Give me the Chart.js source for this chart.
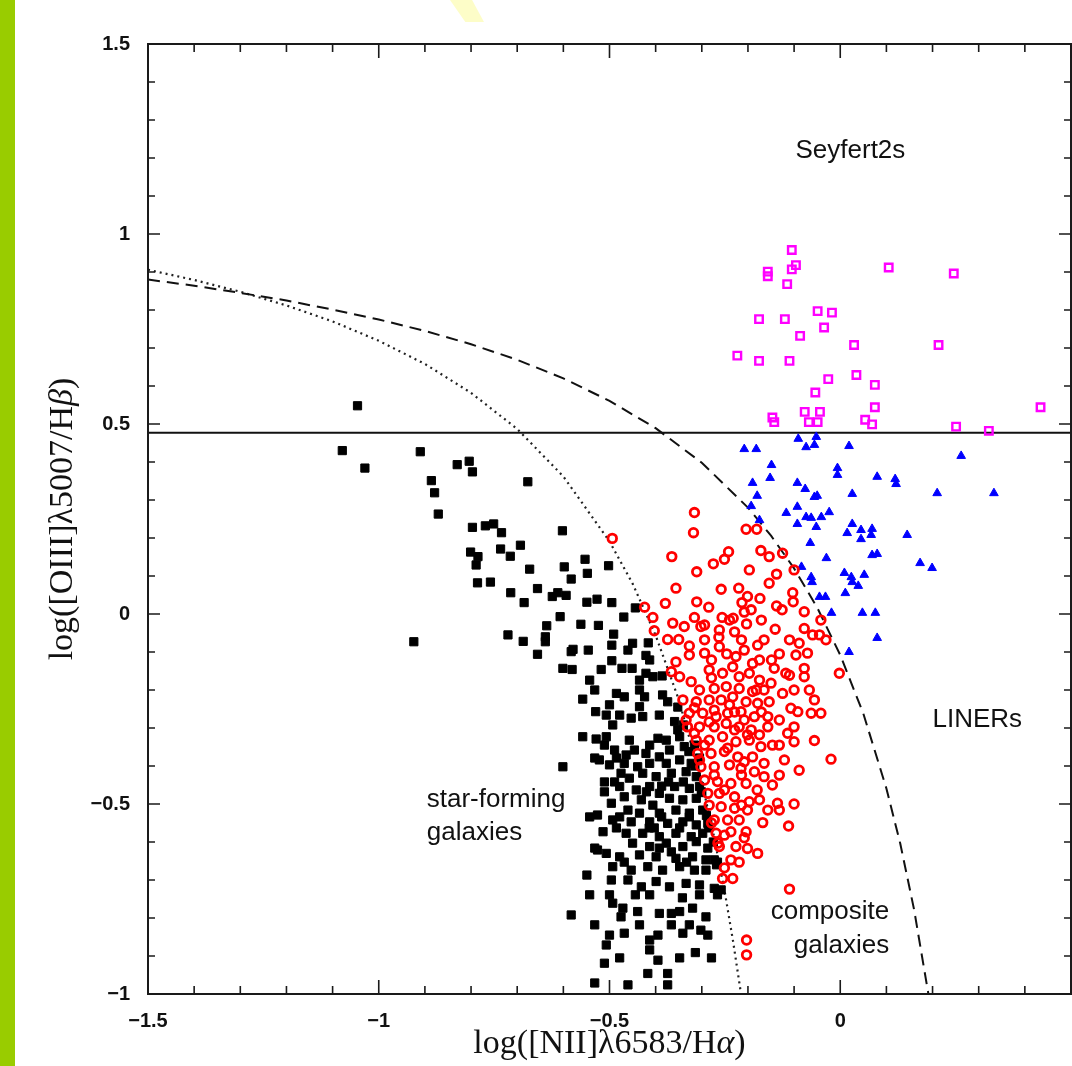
<!DOCTYPE html>
<html>
<head>
<meta charset="utf-8">
<script src="https://cdn.jsdelivr.net/npm/chart.js@4.4.1/dist/chart.umd.min.js"></script>
<style>
  html, body { margin:0; padding:0; background:#fff; }
  #wrap { position:relative; width:1072px; height:1066px; overflow:hidden; }
  #c { position:absolute; left:0; top:0; }
  #bar { position:absolute; left:0; top:0; width:15px; height:1066px; background:#99cc00; }
  #tab { position:absolute; left:450px; top:0; width:34px; height:22px; background:#fdfdc8;
         clip-path:polygon(0 0, 65% 0, 100% 100%, 45% 100%); }
</style>
</head>
<body>
<div id="wrap">
  <canvas id="c" width="1072" height="1066"></canvas>
  <div id="bar"></div>
  <div id="tab"></div>
</div>
<script>
/* BPT diagram: [OIII]/Hb vs [NII]/Ha */

const xMajor = [-1.5, -1, -0.5, 0];
const xMajorLabels = ['\u22121.5', '\u22121', '\u22120.5', '0'];
const yMajor = [-1, -0.5, 0, 0.5, 1, 1.5];
const yMajorLabels = ['\u22121', '\u22120.5', '0', '0.5', '1', '1.5'];

// Seyfert / LINER split
const splitX = [-1.5, 0.5];
const splitY = [0.477, 0.477];

// dashed boundary (upper)
const kewleyX = [-1.5,-1.4,-1.3,-1.2,-1.1,-1.0,-0.9,-0.8,-0.7,-0.6,-0.5,-0.4,-0.3,-0.2,-0.15,-0.1,-0.05,0,0.05,0.1,0.13,0.16,0.191];
const kewleyY = [0.880,0.864,0.845,0.825,0.801,0.775,0.745,0.710,0.669,0.620,0.561,0.489,0.398,0.280,0.206,0.120,0.017,-0.108,-0.262,-0.459,-0.604,-0.778,-1.0];

// dotted boundary (lower)
const kauffX = [-1.5,-1.4,-1.3,-1.2,-1.1,-1.0,-0.9,-0.8,-0.7,-0.6,-0.5,-0.45,-0.4,-0.35,-0.3,-0.275,-0.25,-0.232,-0.215];
const kauffY = [0.906,0.879,0.848,0.812,0.770,0.719,0.658,0.582,0.487,0.362,0.191,0.080,-0.056,-0.225,-0.443,-0.577,-0.733,-0.863,-1.0];

const seyferts = [
  [-0.105,0.958],[-0.157,0.901],[-0.157,0.889],[-0.096,0.918],[-0.105,0.907],[-0.115,0.868],[0.105,0.912],[0.246,0.896],
  [-0.176,0.776],[-0.120,0.776],[-0.049,0.797],[-0.018,0.793],[-0.035,0.754],[-0.087,0.732],[0.030,0.708],[0.213,0.708],
  [-0.223,0.680],[-0.176,0.666],[-0.110,0.666],[-0.026,0.618],[0.035,0.629],[0.075,0.603],[-0.054,0.583],[-0.077,0.532],
  [-0.044,0.532],[0.075,0.544],[0.434,0.544],[-0.147,0.517],[-0.143,0.505],[-0.068,0.505],[-0.049,0.505],[0.054,0.511],
  [0.069,0.499],[0.251,0.493],[0.322,0.482]
];

const liners = [
  [-0.208,0.434],[-0.182,0.434],[-0.091,0.461],[-0.074,0.439],[-0.056,0.445],[-0.052,0.466],[0.019,0.442],[0.262,0.416],
  [-0.149,0.392],[-0.152,0.358],[-0.190,0.345],[-0.180,0.311],[-0.193,0.284],[-0.175,0.247],[-0.093,0.345],[-0.076,0.329],
  [-0.056,0.308],[-0.050,0.311],[-0.006,0.384],[-0.006,0.366],[0.026,0.316],[0.080,0.361],[0.119,0.355],[0.121,0.342],
  [0.210,0.318],[0.333,0.318],[-0.117,0.266],[-0.093,0.282],[-0.074,0.255],[-0.063,0.253],[-0.041,0.255],[-0.024,0.268],
  [-0.093,0.237],[-0.052,0.229],[0.026,0.237],[0.015,0.213],[0.045,0.221],[0.069,0.224],[0.067,0.208],[0.045,0.197],
  [-0.065,0.187],[-0.030,0.147],[0.069,0.155],[0.080,0.158],[-0.084,0.124],[-0.063,0.097],[-0.061,0.084],[0.009,0.108],
  [0.024,0.097],[0.026,0.084],[0.052,0.103],[0.039,0.074],[-0.045,0.045],[-0.032,0.045],[0.011,0.055],[-0.019,0.003],
  [0.048,0.003],[0.076,0.003],[0.080,-0.063],[0.019,-0.100],[0.145,0.208],[0.173,0.134],[0.199,0.121]
];

const composites = [
  [-0.316,0.267],[-0.318,0.214],[-0.365,0.151],[-0.311,0.111],[-0.275,0.132],[-0.251,0.144],[-0.242,0.164],[-0.204,0.223],[-0.181,0.223],[-0.172,0.167],
  [-0.154,0.151],[-0.125,0.160],[-0.100,0.116],[-0.197,0.116],[-0.138,0.105],[-0.154,0.081],[-0.356,0.068],[-0.258,0.065],[-0.220,0.068],[-0.201,0.046],
  [-0.174,0.041],[-0.103,0.056],[-0.102,0.032],[-0.138,0.021],[-0.379,0.028],[-0.311,0.032],[-0.285,0.018],[-0.213,0.030],[-0.193,0.011],[-0.424,0.018],
  [-0.406,-0.009],[-0.078,0.006],[-0.042,-0.016],[-0.256,-0.009],[-0.232,-0.011],[-0.203,-0.026],[-0.141,-0.040],[-0.363,-0.024],[-0.338,-0.033],[-0.316,-0.009],
  [-0.302,-0.033],[-0.403,-0.044],[-0.374,-0.067],[-0.350,-0.067],[-0.262,-0.042],[-0.263,-0.061],[-0.229,-0.047],[-0.078,-0.038],[-0.060,-0.055],[-0.045,-0.055],
  [-0.031,-0.068],[-0.179,-0.082],[-0.165,-0.068],[-0.089,-0.077],[-0.096,-0.108],[-0.071,-0.103],[-0.327,-0.084],[-0.294,-0.103],[-0.262,-0.086],[-0.246,-0.105],
  [-0.226,-0.112],[-0.190,-0.130],[-0.132,-0.105],[-0.143,-0.143],[-0.118,-0.156],[-0.078,-0.143],[-0.078,-0.165],[-0.002,-0.156],[-0.327,-0.108],[-0.356,-0.126],
  [-0.366,-0.152],[-0.348,-0.165],[-0.323,-0.178],[-0.284,-0.147],[-0.255,-0.156],[-0.233,-0.139],[-0.219,-0.165],[-0.197,-0.156],[-0.175,-0.174],[-0.150,-0.182],
  [-0.125,-0.209],[-0.305,-0.200],[-0.273,-0.196],[-0.247,-0.191],[-0.219,-0.196],[-0.190,-0.204],[-0.341,-0.226],[-0.312,-0.231],[-0.284,-0.226],[-0.258,-0.226],
  [-0.233,-0.218],[-0.204,-0.231],[-0.179,-0.235],[-0.154,-0.231],[-0.107,-0.248],[-0.092,-0.257],[-0.063,-0.261],[-0.042,-0.261],[-0.327,-0.261],[-0.298,-0.261],
  [-0.269,-0.270],[-0.244,-0.261],[-0.215,-0.257],[-0.186,-0.270],[-0.157,-0.270],[-0.331,-0.297],[-0.305,-0.297],[-0.273,-0.297],[-0.247,-0.288],[-0.219,-0.297],
  [-0.193,-0.305],[-0.157,-0.297],[-0.100,-0.297],[-0.100,-0.336],[-0.056,-0.333],[-0.114,-0.314],[-0.312,-0.332],[-0.284,-0.332],[-0.255,-0.323],[-0.226,-0.336],
  [-0.197,-0.332],[-0.172,-0.349],[-0.147,-0.345],[-0.309,-0.367],[-0.280,-0.367],[-0.251,-0.362],[-0.222,-0.376],[-0.190,-0.376],[-0.165,-0.393],[-0.020,-0.382],
  [-0.302,-0.402],[-0.273,-0.402],[-0.240,-0.397],[-0.215,-0.406],[-0.186,-0.415],[-0.165,-0.428],[-0.132,-0.424],[-0.147,-0.450],[-0.294,-0.437],[-0.266,-0.441],
  [-0.237,-0.446],[-0.204,-0.446],[-0.287,-0.472],[-0.262,-0.472],[-0.229,-0.481],[-0.197,-0.494],[-0.157,-0.516],[-0.136,-0.498],[-0.100,-0.500],[-0.284,-0.503],
  [-0.258,-0.507],[-0.229,-0.511],[-0.168,-0.549],[-0.112,-0.558],[-0.273,-0.542],[-0.244,-0.542],[-0.219,-0.542],[-0.269,-0.577],[-0.237,-0.573],[-0.204,-0.573],
  [-0.262,-0.612],[-0.226,-0.612],[-0.201,-0.617],[-0.179,-0.630],[-0.237,-0.647],[-0.255,-0.696],[-0.233,-0.696],[-0.494,0.199],[-0.334,-0.279],[-0.316,-0.314],
  [-0.110,-0.724],[-0.203,-0.858],[-0.203,-0.897],[-0.279,-0.121],[-0.208,-0.095],[-0.175,-0.121],[-0.240,-0.239],[-0.208,-0.279],[-0.175,-0.318],[-0.294,-0.345],
  [-0.251,-0.463],[-0.214,-0.424],[-0.180,-0.463],[-0.132,-0.279],[-0.273,-0.253],[-0.229,-0.305],[-0.265,-0.603],[-0.126,0.011],[-0.171,-0.016],[-0.110,-0.068],
  [-0.149,-0.121],[-0.110,-0.161],[-0.165,-0.200],[-0.132,-0.345],[-0.201,-0.516],[-0.219,-0.653],[-0.251,-0.668],
  [-0.294,-0.068],[-0.214,-0.068],[-0.279,-0.168],[-0.182,-0.200],[-0.316,-0.247],[-0.229,-0.258],[-0.171,-0.258],[-0.284,-0.284],
  [-0.201,-0.318],[-0.244,-0.353],[-0.305,-0.384],[-0.208,-0.389],[-0.273,-0.424],[-0.214,-0.503],[-0.175,-0.489],[-0.251,-0.582],
  [-0.279,-0.550],[-0.208,-0.589],[-0.121,-0.384],[-0.089,-0.411],[-0.132,-0.516],[-0.067,-0.200],[-0.056,-0.226],[-0.100,-0.200],
  [-0.240,-0.016],[-0.208,0.005],[-0.294,-0.029]
];

const starForming = [
  [-1.046,0.548],[-1.079,0.430],[-1.030,0.384],[-0.910,0.427],[-0.830,0.393],[-0.804,0.402],[-0.797,0.374],[-0.886,0.351],[-0.879,0.319],[-0.871,0.263],
  [-0.677,0.348],[-0.797,0.228],[-0.769,0.232],[-0.751,0.237],[-0.734,0.214],[-0.602,0.219],[-0.693,0.181],[-0.736,0.171],[-0.715,0.152],[-0.801,0.163],
  [-0.785,0.151],[-0.789,0.129],[-0.786,0.082],[-0.758,0.084],[-0.673,0.118],[-0.598,0.124],[-0.553,0.144],[-0.548,0.107],[-0.502,0.127],[-0.583,0.092],
  [-0.714,0.056],[-0.656,0.067],[-0.685,0.030],[-0.624,0.046],[-0.612,0.056],[-0.594,0.049],[-0.549,0.031],[-0.527,0.039],[-0.495,0.030],[-0.444,0.016],
  [-0.607,-0.007],[-0.636,-0.031],[-0.562,-0.027],[-0.524,-0.030],[-0.469,-0.008],[-0.720,-0.055],[-0.687,-0.072],[-0.639,-0.060],[-0.639,-0.073],[-0.491,-0.053],
  [-0.495,-0.082],[-0.450,-0.077],[-0.460,-0.095],[-0.416,-0.076],[-0.924,-0.073],[-0.656,-0.106],[-0.579,-0.093],[-0.583,-0.099],[-0.546,-0.095],[-0.495,-0.123],
  [-0.421,-0.109],[-0.413,-0.121],[-0.601,-0.143],[-0.581,-0.146],[-0.518,-0.146],[-0.473,-0.143],[-0.386,-0.163],[-0.451,-0.143],[-0.421,-0.156],[-0.406,-0.165],
  [-0.532,-0.200],[-0.558,-0.224],[-0.500,-0.239],[-0.485,-0.209],[-0.468,-0.218],[-0.435,-0.200],[-0.424,-0.218],[-0.385,-0.213],[-0.374,-0.231],[-0.530,-0.257],
  [-0.493,-0.292],[-0.435,-0.244],[-0.428,-0.270],[-0.453,-0.274],[-0.392,-0.266],[-0.359,-0.283],[-0.352,-0.305],[-0.558,-0.323],[-0.529,-0.329],[-0.507,-0.323],
  [-0.457,-0.332],[-0.395,-0.327],[-0.377,-0.332],[-0.348,-0.323],[-0.489,-0.358],[-0.464,-0.371],[-0.446,-0.358],[-0.421,-0.367],[-0.392,-0.376],[-0.370,-0.358],
  [-0.338,-0.349],[-0.601,-0.402],[-0.500,-0.397],[-0.468,-0.393],[-0.439,-0.402],[-0.413,-0.393],[-0.377,-0.393],[-0.348,-0.384],[-0.323,-0.393],[-0.475,-0.419],
  [-0.457,-0.432],[-0.428,-0.419],[-0.399,-0.428],[-0.366,-0.419],[-0.334,-0.415],[-0.312,-0.428],[-0.478,-0.454],[-0.442,-0.463],[-0.413,-0.454],[-0.392,-0.472],
  [-0.359,-0.454],[-0.327,-0.459],[-0.305,-0.454],[-0.468,-0.481],[-0.431,-0.489],[-0.406,-0.503],[-0.370,-0.485],[-0.341,-0.489],[-0.312,-0.485],[-0.496,-0.498],
  [-0.460,-0.516],[-0.435,-0.524],[-0.392,-0.524],[-0.356,-0.516],[-0.327,-0.524],[-0.298,-0.516],[-0.493,-0.542],[-0.453,-0.547],[-0.413,-0.547],[-0.374,-0.551],
  [-0.341,-0.547],[-0.312,-0.555],[-0.287,-0.551],[-0.514,-0.573],[-0.464,-0.577],[-0.428,-0.577],[-0.392,-0.586],[-0.356,-0.577],[-0.323,-0.586],[-0.298,-0.577],
  [-0.450,-0.603],[-0.413,-0.612],[-0.377,-0.603],[-0.341,-0.612],[-0.312,-0.599],[-0.507,-0.630],[-0.478,-0.639],[-0.435,-0.634],[-0.399,-0.639],[-0.356,-0.643],
  [-0.320,-0.639],[-0.291,-0.647],[-0.273,-0.647],[-0.493,-0.665],[-0.453,-0.674],[-0.417,-0.665],[-0.385,-0.674],[-0.348,-0.665],[-0.316,-0.674],[-0.291,-0.674],
  [-0.549,-0.687],[-0.496,-0.700],[-0.460,-0.700],[-0.431,-0.718],[-0.399,-0.704],[-0.370,-0.718],[-0.334,-0.709],[-0.305,-0.713],[-0.273,-0.722],[-0.258,-0.726],
  [-0.493,-0.761],[-0.471,-0.774],[-0.439,-0.783],[-0.392,-0.788],[-0.366,-0.788],[-0.348,-0.783],[-0.320,-0.774],[-0.291,-0.797],[-0.583,-0.792],[-0.475,-0.797],
  [-0.500,-0.845],[-0.468,-0.840],[-0.413,-0.858],[-0.395,-0.845],[-0.341,-0.840],[-0.302,-0.832],[-0.287,-0.845],[-0.507,-0.871],[-0.413,-0.884],[-0.314,-0.891],
  [-0.511,-0.919],[-0.395,-0.911],[-0.417,-0.946],[-0.374,-0.946],[-0.532,-0.971],
  [-0.352,-0.245],[-0.340,-0.292],[-0.328,-0.362],[-0.315,-0.400],[-0.300,-0.470],[-0.290,-0.530],[-0.275,-0.600],[-0.268,-0.660],
  [-0.522,-0.384],[-0.511,-0.442],[-0.526,-0.529],[-0.387,-0.453],[-0.403,-0.563],[-0.366,-0.626],[-0.526,-0.621],[-0.543,-0.739],
  [-0.444,-0.739],[-0.342,-0.747],
  [-0.511,-0.345],[-0.413,-0.345],[-0.316,-0.345],[-0.532,-0.379],[-0.485,-0.379],[-0.305,-0.379],[-0.489,-0.442],[-0.372,-0.442],
  [-0.340,-0.442],[-0.511,-0.468],[-0.420,-0.468],[-0.301,-0.468],[-0.543,-0.534],[-0.478,-0.534],[-0.387,-0.534],[-0.327,-0.534],
  [-0.485,-0.563],[-0.414,-0.563],[-0.348,-0.563],[-0.285,-0.563],[-0.532,-0.616],[-0.392,-0.616],[-0.287,-0.616],[-0.468,-0.653],
  [-0.333,-0.653],[-0.266,-0.653],[-0.500,-0.739],[-0.413,-0.739],[-0.305,-0.739],[-0.266,-0.739],[-0.532,-0.818],[-0.435,-0.818],
  [-0.366,-0.818],[-0.327,-0.818],[-0.478,-0.905],[-0.348,-0.905],[-0.279,-0.905],[-0.460,-0.976],[-0.374,-0.976],[-0.507,-0.266],
  [-0.478,-0.266],[-0.543,-0.174],[-0.435,-0.174]
];

// region labels, placed in data units
const labelText  = ['Seyfert2s', 'LINERs', 'star-forming', 'galaxies', 'composite', 'galaxies'];
const labelX     = [0.022, 0.297, -0.896, -0.896, 0.106, 0.106];
const labelY     = [1.218, -0.279, -0.489, -0.576, -0.784, -0.874];
const labelAlign = ['center', 'center', 'left', 'left', 'right', 'right'];

const xTitle = [['log([NII]\u03bb6583/H', 'normal'], ['\u03b1', 'italic'], [')', 'normal']];
const yTitle = [['log([OIII]\u03bb5007/H', 'normal'], ['\u03b2', 'italic'], [')', 'normal']];

const pts = arr => arr.map(p => ({x: p[0], y: p[1]}));
const line = (xs, ys) => xs.map((x, i) => ({x: x, y: ys[i]}));
const isHalf = v => Math.abs(v * 2 - Math.round(v * 2)) < 1e-6;

function majorLabel(v, vals, labs){
  for (let i = 0; i < vals.length; i++) if (Math.abs(v - vals[i]) < 1e-6) return labs[i];
  return '';
}

function drawRuns(ctx, runs, size){
  let total = 0;
  runs.forEach(r => { ctx.font = r[1] + ' ' + size + 'px "Liberation Serif"'; total += ctx.measureText(r[0]).width; });
  let x = -total / 2;
  runs.forEach(r => {
    ctx.font = r[1] + ' ' + size + 'px "Liberation Serif"';
    ctx.fillText(r[0], x, 0);
    x += ctx.measureText(r[0]).width;
  });
}

/* frame with inward ticks on all four sides, region labels, axis titles */
const framePlugin = {
  id: 'frame',
  afterDraw(chart){
    const {ctx, chartArea: a, scales: {x, y}} = chart;
    ctx.save();
    ctx.strokeStyle = '#1a1a1a';
    ctx.lineWidth = 2;
    ctx.strokeRect(a.left, a.top, a.right - a.left, a.bottom - a.top);
    ctx.lineWidth = 1.6;
    ctx.beginPath();
    x.ticks.forEach(t => {
      const px = x.getPixelForValue(t.value);
      const L = isHalf(t.value) ? 14 : 8;
      ctx.moveTo(px, a.bottom); ctx.lineTo(px, a.bottom - L);
      ctx.moveTo(px, a.top); ctx.lineTo(px, a.top + L);
    });
    y.ticks.forEach(t => {
      const py = y.getPixelForValue(t.value);
      const L = isHalf(t.value) ? 12 : 7;
      ctx.moveTo(a.left, py); ctx.lineTo(a.left + L, py);
      ctx.moveTo(a.right, py); ctx.lineTo(a.right - L, py);
    });
    ctx.stroke();

    ctx.fillStyle = '#111';
    ctx.font = '26px "Liberation Sans"';
    ctx.textBaseline = 'middle';
    labelText.forEach((s, i) => {
      ctx.textAlign = labelAlign[i];
      ctx.fillText(s, x.getPixelForValue(labelX[i]), y.getPixelForValue(labelY[i]));
    });

    ctx.textAlign = 'left';
    ctx.save();
    ctx.translate((a.left + a.right) / 2, a.bottom + 50);
    drawRuns(ctx, xTitle, 34);
    ctx.restore();
    ctx.save();
    ctx.translate(a.left - 85, (a.top + a.bottom) / 2);
    ctx.rotate(-Math.PI / 2);
    drawRuns(ctx, yTitle, 34);
    ctx.restore();
    ctx.restore();
  }
};

const tickFont = {family: 'Liberation Sans', size: 20, weight: 'bold'};

new Chart(document.getElementById('c'), {
  type: 'scatter',
  data: {
    datasets: [
      { label: 'composite', data: pts(composites), pointStyle: 'circle', pointRadius: 4.3, pointBorderWidth: 2.8,
        pointBorderColor: '#ff0000', pointBackgroundColor: 'rgba(0,0,0,0)' },
      { label: 'Seyfert2s', data: pts(seyferts), pointStyle: 'rect', pointRadius: 5.3, pointBorderWidth: 2.4,
        pointBorderColor: '#ff00ff', pointBackgroundColor: 'rgba(0,0,0,0)' },
      { label: 'LINERs', data: pts(liners), pointStyle: 'triangle', pointRadius: 5, pointBorderWidth: 1,
        pointBorderColor: '#0000ff', pointBackgroundColor: '#0000ff' },
      { label: 'star-forming', data: pts(starForming), pointStyle: 'rect', pointRadius: 5.8, pointBorderWidth: 1,
        pointBorderColor: '#000', pointBackgroundColor: '#000' },
      { label: 'split', data: line(splitX, splitY), showLine: true, pointRadius: 0, borderColor: '#111', borderWidth: 2 },
      { label: 'dashed', data: line(kewleyX, kewleyY), showLine: true, pointRadius: 0, borderColor: '#111', borderWidth: 2,
        borderDash: [12, 7] },
      { label: 'dotted', data: line(kauffX, kauffY), showLine: true, pointRadius: 0, borderColor: '#222', borderWidth: 2.2,
        borderDash: [2, 4] }
    ]
  },
  options: {
    responsive: false,
    animation: false,
    events: [],
    layout: { autoPadding: false, padding: { top: 44, right: 1, left: 0, bottom: 0 } },
    plugins: { legend: { display: false }, tooltip: { enabled: false } },
    scales: {
      x: {
        type: 'linear', min: -1.5, max: 0.5,
        grid: { display: false }, border: { display: false },
        ticks: { stepSize: 0.1, autoSkip: false, maxRotation: 0, padding: 7, color: '#111', font: tickFont,
                 callback: v => majorLabel(v, xMajor, xMajorLabels) },
        afterFit: s => { s.height = 72; s.paddingLeft = 0; s.paddingRight = 0; }
      },
      y: {
        type: 'linear', min: -1, max: 1.5,
        grid: { display: false }, border: { display: false },
        ticks: { stepSize: 0.1, autoSkip: false, padding: 10, color: '#111', font: tickFont,
                 callback: v => majorLabel(v, yMajor, yMajorLabels) },
        afterFit: s => { s.width = 148; s.paddingTop = 0; s.paddingBottom = 0; }
      }
    }
  },
  plugins: [framePlugin]
});
</script>
</body>
</html>
